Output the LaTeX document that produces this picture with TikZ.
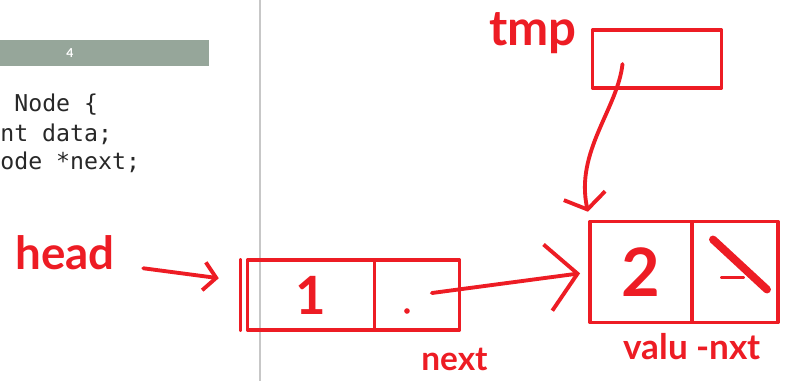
\documentclass[tikz,border=0pt]{standalone}
\usepackage{fontspec}
\setsansfont{Lato}
\setmonofont{DejaVu Sans Mono}
\usetikzlibrary{arrows.meta,positioning,calc}
\definecolor{ink}{RGB}{237,28,36}
\definecolor{slidegray}{RGB}{150,166,154}
\definecolor{codegray}{RGB}{40,40,40}

\begin{document}
\begin{tikzpicture}[
  x=0.02cm, y=-0.02cm,
  pen/.style={draw=ink, line width=2.2pt, line cap=round, line join=round},
  ptr/.style={pen, -{Straight Barb[length=7pt,width=16pt]}},
  cell/.style={pen, rectangle, outer sep=0pt, inner sep=0pt, text=ink, font=\sffamily\bfseries\fontsize{30}{30}\selectfont},
  scrawl/.style={text=ink, inner sep=2pt, font=\sffamily\bfseries\fontsize{26}{28}\selectfont},
  code/.style={anchor=base west, inner sep=0pt, text=codegray, font=\ttfamily\fontsize{13.2}{16}\selectfont}
]
  \useasboundingbox (0,0) rectangle (795,381);

  % slide behind the ink
  \fill[slidegray] (0,40) rectangle (209,66);
  \node[text=white, font=\sffamily\bfseries\fontsize{7}{8}\selectfont] (page) at (70,53) {4};
  \node[code] (l1) at (14,112) {Node \{};
  \node[code] (l2) at (0,142) {nt data;};
  \node[code] (l3) at (0,170) {ode *next;};
  \draw[black!22, line width=0.6pt] (260,0) -- (260,381);

  % list cells
  \node[cell, minimum width=2.54cm, minimum height=1.4cm] (n1val) at (311,295) {1};
  \node[cell, right=0pt of n1val, minimum width=1.7cm, minimum height=1.4cm] (n1next) {};
  \draw[pen] ([xshift=-4pt]n1val.north west) -- ([xshift=-4pt]n1val.south west);
  \fill[ink] ($(n1next.center)+(-10,16)$) circle (1.6pt);

  \node[cell, minimum width=2.04cm, minimum height=2.02cm, font=\sffamily\bfseries\fontsize{38}{38}\selectfont] (n2val) at (641,272) {2};
  \node[cell, right=0pt of n2val, minimum width=1.72cm, minimum height=2.02cm] (n2next) {};
  \draw[pen, line width=4.5pt] ($(n2next.north west)+(21,18)$) -- ($(n2next.north west)+(75,68)$);
  \draw[pen] ($(n2next.north west)+(30,56)$) -- ($(n2next.north west)+(51,56)$);

  \node[cell, minimum width=2.58cm, minimum height=1.16cm] (tmp) at (657,59) {};

  % labels
  \node[scrawl] (headlbl) at (65,253) {head};
  \node[scrawl, font=\sffamily\bfseries\fontsize{28}{30}\selectfont] (tmplbl) at (533,33) {tmp};
  \node[scrawl, font=\sffamily\bfseries\fontsize{19}{21}\selectfont, below=0.28cm of n1next, xshift=0.75cm] (nextlbl) {next};
  \node[scrawl, font=\sffamily\bfseries\fontsize{20}{22}\selectfont, below=0.14cm of n2val.south east] (fieldlbl) {valu -nxt};

  % pointers
  \draw[ptr, shorten <=0.5cm, shorten >=0.58cm] ($(headlbl.east)+(0,12)$) -- ($(n1val.west)+(0,-13)$);
  \draw[ptr, -{Straight Barb[length=17pt,width=38pt]}, shorten <=0.3cm, shorten >=0.2cm] (n1next.center) -- (n2val.west);
  \draw[ptr, -{Straight Barb[length=8pt,width=24pt]}, shorten >=0.2cm]
    ($(tmp.west)+(30,5)$) .. controls +(-5,45) and +(-15,-70) .. (n2val.north west);
\end{tikzpicture}
\end{document}
